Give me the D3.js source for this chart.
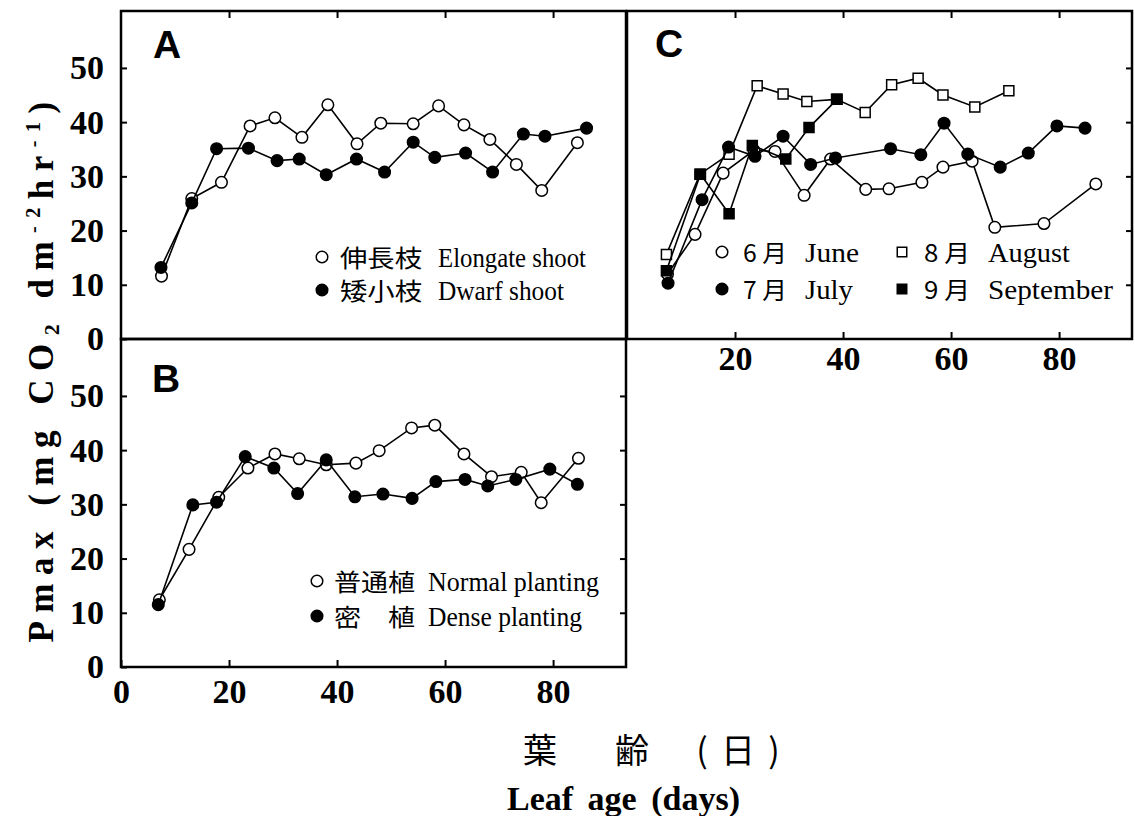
<!DOCTYPE html>
<html>
<head>
<meta charset="utf-8">
<script src="https://cdn.jsdelivr.net/npm/d3@7"></script>
<style>
body { margin: 0; background: #fff; }
</style>
</head>
<body>
<svg id="chart" width="1135" height="816"></svg>
<script>
// ---- data (leaf age in days, Pmax) ----
const elongDays = [7.5, 13.1, 18.6, 23.9, 28.5, 33.5, 38.3, 43.7, 48.1, 54.1, 58.8, 63.5, 68.3, 73.2, 77.9, 84.5];
const elongVals = [11.6, 25.9, 28.9, 39.3, 40.8, 37.2, 43.2, 36.0, 39.8, 39.7, 43.0, 39.5, 36.8, 32.2, 27.4, 36.2];
const dwarfDays = [7.4, 13.1, 17.7, 23.6, 28.9, 33.0, 38.0, 43.6, 48.8, 54.1, 58.1, 63.8, 68.8, 74.5, 78.5, 86.2];
const dwarfVals = [13.2, 25.1, 35.1, 35.2, 32.9, 33.2, 30.3, 33.2, 30.8, 36.3, 33.5, 34.3, 30.8, 37.8, 37.4, 38.9];

const normalDays = [7.1, 12.6, 18.1, 23.5, 28.5, 33.0, 38.0, 43.5, 47.8, 53.8, 58.1, 63.5, 68.6, 74.1, 77.8, 84.7];
const normalVals = [12.4, 21.7, 31.3, 36.7, 39.3, 38.4, 37.3, 37.6, 39.9, 44.1, 44.6, 39.3, 35.1, 35.9, 30.3, 38.5];
const denseDays = [6.9, 13.3, 17.7, 23.0, 28.3, 32.7, 38.0, 43.3, 48.5, 53.9, 58.3, 63.7, 67.9, 73.1, 79.4, 84.5];
const denseVals = [11.5, 29.9, 30.4, 38.8, 36.7, 32.0, 38.2, 31.4, 31.9, 31.1, 34.2, 34.6, 33.4, 34.6, 36.5, 33.7];

const juneDays = [7.5, 12.6, 17.8, 23.5, 27.4, 32.8, 37.7, 44.2, 48.5, 54.6, 58.5, 63.9, 68.1, 77.2, 86.8];
const juneVals = [12.0, 19.3, 30.6, 34.8, 34.6, 26.5, 33.2, 27.6, 27.7, 28.9, 31.7, 32.8, 20.6, 21.3, 28.6];
const julyDays = [7.6, 13.9, 18.8, 23.7, 28.9, 34.0, 38.6, 48.8, 54.4, 58.7, 63.1, 69.1, 74.3, 79.6, 84.8];
const julyVals = [10.3, 25.7, 35.4, 33.7, 37.4, 32.2, 33.4, 35.1, 34.0, 39.8, 34.1, 31.7, 34.3, 39.3, 38.9];
const augDays = [7.3, 13.5, 18.9, 24.1, 28.9, 33.3, 38.8, 44.1, 49.0, 53.9, 58.5, 64.4, 70.7];
const augVals = [15.6, 30.4, 34.1, 46.7, 45.2, 43.8, 44.2, 41.8, 46.9, 48.1, 45.0, 42.8, 45.8];
const sepDays = [7.3, 13.6, 18.9, 23.2, 29.4, 33.7, 38.9];
const sepVals = [12.6, 30.4, 23.1, 35.7, 33.2, 39.0, 44.2];

const xTicks = [20, 40, 60, 80];
const xLabelTicks = [0, 20, 40, 60, 80];
const yTicks = [10, 20, 30, 40, 50];
const yLabelTicks = [0, 10, 20, 30, 40, 50];

// ---- layout ----
const svg = d3.select('#chart');
const W = 505, H = 328;
const serif = '"Liberation Serif", "Times New Roman", serif';
const sans = '"Liberation Sans", Arial, sans-serif';
const cjk = '"Noto Sans CJK JP", "Noto Sans CJK SC", sans-serif';

const x = d3.scaleLinear().domain([0, 93.5]).range([0, W]);
const y = d3.scaleLinear().domain([0, 60.5]).range([H, 0]);

const gA = svg.append('g').attr('transform', 'translate(121,11)');
const gB = svg.append('g').attr('transform', 'translate(121,339)');
const gC = svg.append('g').attr('transform', 'translate(627,11)');

const styleAxis = function (g, axis) {
    g.call(axis);
    g.select('.domain').remove();
    g.selectAll('.tick line').attr('stroke', '#000').attr('stroke-width', 2);
    g.selectAll('.tick text')
        .attr('font-family', serif)
        .attr('font-weight', 'bold')
        .attr('font-size', 34)
        .attr('fill', '#000');
};

// panel A
styleAxis(gA.append('g'), d3.axisLeft(y).tickValues(yLabelTicks).tickSize(-6).tickPadding(17));
styleAxis(gA.append('g'), d3.axisTop(x).tickValues(xTicks).tickSize(-7).tickFormat(''));

// panel B
styleAxis(gB.append('g'), d3.axisLeft(y).tickValues(yLabelTicks).tickSize(-6).tickPadding(17));
styleAxis(gB.append('g').attr('transform', `translate(${W},0)`),
    d3.axisRight(y).tickValues(yTicks).tickSize(-6).tickFormat(''));
styleAxis(gB.append('g').attr('transform', `translate(0,${H})`),
    d3.axisBottom(x).tickValues(xLabelTicks).tickSize(-7).tickPadding(12));

// panel C
styleAxis(gC.append('g'), d3.axisTop(x).tickValues(xTicks).tickSize(-7).tickFormat(''));
styleAxis(gC.append('g').attr('transform', `translate(${W},0)`),
    d3.axisRight(y).tickValues(yTicks).tickSize(-6).tickFormat(''));
styleAxis(gC.append('g').attr('transform', `translate(0,${H})`),
    d3.axisBottom(x).tickValues(xTicks).tickSize(-7).tickPadding(7));

[gA, gB, gC].forEach(function (g) {
    g.append('rect')
        .attr('width', W).attr('height', H)
        .attr('fill', 'none').attr('stroke', '#000').attr('stroke-width', 2.5);
});

// ---- series ----
const drawSeries = function (g, days, vals, shape, filled) {
    const line = d3.line()
        .x((d, i) => x(days[i]))
        .y(d => y(d));
    g.append('path')
        .attr('d', line(vals))
        .attr('fill', 'none').attr('stroke', '#000').attr('stroke-width', 1.6);
    const sym = d3.symbol()
        .type(shape === 'square' ? d3.symbolSquare : d3.symbolCircle)
        .size(shape === 'square' ? 100 : 105);
    g.selectAll(null)
        .data(vals)
        .enter()
        .append('path')
        .attr('transform', (d, i) => `translate(${x(days[i])},${y(d)})`)
        .attr('d', sym)
        .attr('fill', filled ? '#000' : '#fff')
        .attr('stroke', '#000').attr('stroke-width', 1.5);
};

drawSeries(gA, elongDays, elongVals, 'circle', false);
drawSeries(gA, dwarfDays, dwarfVals, 'circle', true);

drawSeries(gB, normalDays, normalVals, 'circle', false);
drawSeries(gB, denseDays, denseVals, 'circle', true);

drawSeries(gC, juneDays, juneVals, 'circle', false);
drawSeries(gC, augDays, augVals, 'square', false);
drawSeries(gC, julyDays, julyVals, 'circle', true);
drawSeries(gC, sepDays, sepVals, 'square', true);

// ---- legends ----
const legendItem = function (cx, cy, shape, filled, label1, x1, len1, label2, x2, len2) {
    const sym = d3.symbol()
        .type(shape === 'square' ? d3.symbolSquare : d3.symbolCircle)
        .size(shape === 'square' ? 90 : 105);
    svg.append('path')
        .attr('transform', `translate(${cx},${cy})`)
        .attr('d', sym)
        .attr('fill', filled ? '#000' : '#fff')
        .attr('stroke', '#000').attr('stroke-width', 1.5);
    svg.append('text')
        .attr('x', x1).attr('y', cy + 10)
        .attr('font-family', cjk).attr('font-size', 24)
        .attr('textLength', len1).attr('lengthAdjust', 'spacingAndGlyphs')
        .text(label1);
    svg.append('text')
        .attr('x', x2).attr('y', cy + 10)
        .attr('font-family', serif).attr('font-size', 28)
        .attr('textLength', len2).attr('lengthAdjust', 'spacingAndGlyphs')
        .text(label2);
};

legendItem(322, 257, 'circle', false, '伸長枝', 340, 82, 'Elongate shoot', 438, 148);
legendItem(322, 290, 'circle', true, '矮小枝', 340, 82, 'Dwarf shoot', 438, 126);

legendItem(317, 581, 'circle', false, '普通植', 334, 81, 'Normal planting', 428, 171);
legendItem(317, 616, 'circle', true, '密　植', 334, 81, 'Dense planting', 428, 154);

legendItem(722, 252, 'circle', false, '6 月', 743, 44, 'June', 805, 54);
legendItem(902, 252, 'square', false, '8 月', 924, 46, 'August', 988, 82);
legendItem(722, 289, 'circle', true, '7 月', 743, 44, 'July', 805, 48);
legendItem(902, 289, 'square', true, '9 月', 924, 46, 'September', 988, 125);

// ---- panel letters ----
[['A', 153, 58], ['B', 152, 392], ['C', 655, 57]].forEach(function (p) {
    svg.append('text')
        .attr('x', p[1]).attr('y', p[2])
        .attr('font-family', sans).attr('font-weight', 'bold').attr('font-size', 39)
        .text(p[0]);
});

// ---- axis titles ----
const yTitle = svg.append('text')
    .attr('transform', 'translate(53,368) rotate(-90)')
    .attr('text-anchor', 'middle')
    .attr('font-family', serif).attr('font-weight', 'bold').attr('font-size', 35)
    .attr('letter-spacing', 8.5);
yTitle.append('tspan').text('Pmax (mg CO');
yTitle.append('tspan').attr('font-size', 22).attr('dy', 6).text('2');
yTitle.append('tspan').attr('dy', -6).text(' dm');
yTitle.append('tspan').attr('font-size', 20).attr('dy', -13).text('-2');
yTitle.append('tspan').attr('dy', 13).text('hr');
yTitle.append('tspan').attr('font-size', 20).attr('dy', -13).text('-1');
yTitle.append('tspan').attr('dy', 13).text(')');

[['葉', 540], ['齢', 632], ['(', 702], ['日', 738], [')', 774]].forEach(function (c) {
    svg.append('text')
        .attr('x', c[1]).attr('y', 763)
        .attr('text-anchor', 'middle')
        .attr('font-family', cjk).attr('font-size', 34)
        .text(c[0]);
});

svg.append('text')
    .attr('x', 507).attr('y', 810)
    .attr('font-family', serif).attr('font-weight', 'bold').attr('font-size', 34)
    .attr('word-spacing', 6)
    .text('Leaf age (days)');
</script>
</body>
</html>
